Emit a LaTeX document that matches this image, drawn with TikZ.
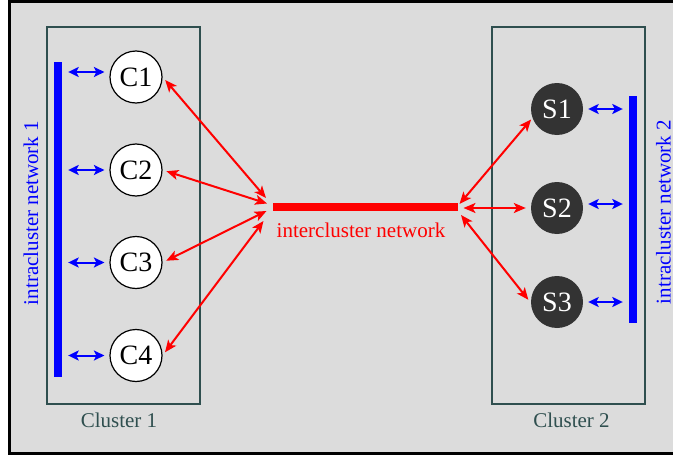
\documentclass[tikz,border=0pt]{standalone}
\usepackage{fontspec}
\setmainfont{Liberation Serif}
\usetikzlibrary{arrows.meta}
\definecolor{bgc}{HTML}{DCDCDC}
\definecolor{slate}{HTML}{2F4F4F}
\definecolor{sfill}{HTML}{333333}
\begin{document}
\begin{tikzpicture}[x=1pt,y=-1pt,
  lbl/.style={font=\fontsize{21}{25}\selectfont,inner sep=0pt},
  cnode/.style={circle,draw=black,line width=1.2pt,fill=white,minimum size=52pt,inner sep=0pt,font=\fontsize{28}{30}\selectfont},
  snode/.style={circle,fill=sfill,text=white,minimum size=52pt,inner sep=0pt,font=\fontsize{28}{30}\selectfont},
  clusterbox/.style={draw=slate,line width=2pt,minimum width=153pt,minimum height=377pt,inner sep=0pt},
  bluebar/.style={fill=blue,minimum width=8pt,inner sep=0pt},
  btip/.tip={Stealth[length=10.5pt,width=10pt,inset=2.5pt]},
  rtip/.tip={Stealth[length=12pt,width=10pt,inset=3pt]},
  barr/.style={blue,line width=2pt,btip-btip},
  rarr/.style={red,line width=2pt,rtip-rtip}]
\useasboundingbox (0,0) rectangle (673,455);
\clip (0,0) rectangle (673,455);
\draw[line width=2.5pt,fill=bgc] (9.5,1.5) rectangle (700,453.5);

% clusters
\node[clusterbox] (cl1) at (123.5,215.5) {};
\node[clusterbox] (cl2) at (568.5,215.5) {};
\node[lbl,text=slate] (cl1lbl) at (119,420) {Cluster 1};
\node[lbl,text=slate] (cl2lbl) at (571.5,420) {Cluster 2};

% bars
\node[bluebar,minimum height=315pt] (bar1) at (57.5,219.5) {};
\node[bluebar,minimum height=227pt] (bar2) at (632.5,209.5) {};
\node[fill=red,minimum width=185pt,minimum height=7.5pt,inner sep=0pt] (inter) at (365,207) {};
\node[lbl,text=red] (interlbl) at (361,230) {intercluster network};
\node[lbl,text=blue,rotate=90] (intra1) at (31,213) {intracluster network 1};
\node[lbl,text=blue,rotate=90] (intra2) at (663.5,212) {intracluster network 2};

% computers
\node[cnode] (C1) at (136,77) {C1};
\node[cnode] (C2) at (136,170) {C2};
\node[cnode] (C3) at (136,262.5) {C3};
\node[cnode] (C4) at (136,355.5) {C4};
\node[snode] (S1) at (557,109) {S1};
\node[snode] (S2) at (557,208) {S2};
\node[snode] (S3) at (557,302) {S3};

% intracluster arrows
\coordinate (c1w) at ([yshift=5pt]C1.west);
\draw[barr,shorten <=6.5pt,shorten >=5pt] (bar1.east |- c1w) -- (c1w);
\draw[barr,shorten <=6.5pt,shorten >=5pt] (bar1.east |- C2.west) -- (C2.west);
\draw[barr,shorten <=6.5pt,shorten >=5pt] (bar1.east |- C3.west) -- (C3.west);
\draw[barr,shorten <=6.5pt,shorten >=5pt] (bar1.east |- C4.west) -- (C4.west);
\draw[barr,shorten <=5pt,shorten >=5.5pt] (S1.east) -- (S1.east -| bar2.west);
\coordinate (s2e) at ([yshift=4pt]S2.east);
\draw[barr,shorten <=5pt,shorten >=5.5pt] (s2e) -- (s2e -| bar2.west);
\draw[barr,shorten <=5pt,shorten >=5.5pt] (S3.east) -- (S3.east -| bar2.west);

% intercluster arrows
\coordinate (t1) at (266,198);
\coordinate (t2) at (267,203.5);
\coordinate (t3) at (266.5,211);
\coordinate (t4) at (263.5,221);
\coordinate (u1) at (459.5,204);
\coordinate (u2) at (463.5,208);
\coordinate (u3) at (461,215);
\draw[rarr,shorten <=4pt] (C1.east) -- (t1);
\draw[rarr,shorten <=4pt] (C2.east) -- (t2);
\draw[rarr,shorten <=4pt] (C3.east) -- (t3);
\draw[rarr,shorten <=4pt] (C4.east) -- (t4);
\draw[rarr,shorten >=2pt] (u1) -- (S1.200);
\draw[rarr,shorten >=5pt] (u2) -- (S2.west);
\draw[rarr,shorten >=4pt] (u3) -- (S3.182);
\end{tikzpicture}
\end{document}
